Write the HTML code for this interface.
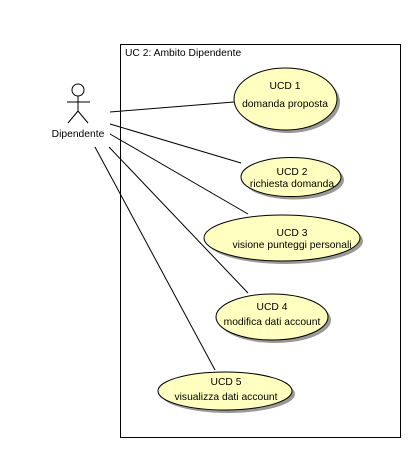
<!DOCTYPE html>
<html><head><style>body{margin:0;background:#fff}svg{display:block}text{font-family:"Liberation Sans",sans-serif;font-size:10.3px;fill:#000}</style></head><body>
<svg width="412" height="449" viewBox="0 0 412 449">
<rect x="120.5" y="44.5" width="280" height="393" fill="#fff" stroke="#000"/>
<text x="125" y="56">UC 2: Ambito Dipendente</text>
<g fill="#999">
<ellipse cx="288.5" cy="102" rx="51.5" ry="31"/>
<ellipse cx="294" cy="180" rx="50" ry="19.5"/>
<ellipse cx="285" cy="241" rx="78" ry="23"/>
<ellipse cx="275" cy="320" rx="56" ry="23"/>
<ellipse cx="228" cy="394" rx="67" ry="19"/>
</g>
<g fill="#ffffc0" stroke="#000">
<ellipse cx="285.5" cy="99" rx="51.5" ry="31"/>
<ellipse cx="291" cy="177" rx="50" ry="19.5"/>
<ellipse cx="282" cy="238" rx="78" ry="23"/>
<ellipse cx="272" cy="317" rx="56" ry="23"/>
<ellipse cx="225" cy="391" rx="67" ry="19"/>
</g>
<g stroke="#000" fill="none">
<line x1="110" y1="112" x2="234" y2="102"/>
<line x1="110" y1="124" x2="241" y2="163"/>
<line x1="110" y1="134" x2="248" y2="214"/>
<line x1="109" y1="147" x2="248" y2="293"/>
<line x1="95" y1="147" x2="215" y2="370"/>
<circle cx="78" cy="90" r="6"/>
<line x1="78" y1="96" x2="78" y2="111"/>
<line x1="67" y1="102" x2="90" y2="102"/>
<line x1="78" y1="111" x2="68" y2="123"/>
<line x1="78" y1="111" x2="88" y2="123"/>
</g>
<g text-anchor="middle">
<text x="78" y="137">Dipendente</text>
<text x="285" y="89">UCD 1</text>
<text x="285" y="107">domanda proposta</text>
<text x="292" y="175">UCD 2</text>
<text x="292" y="187">richiesta domanda</text>
<text x="292" y="236">UCD 3</text>
<text x="292" y="248">visione punteggi personali</text>
<text x="272" y="310">UCD 4</text>
<text x="272" y="325">modifica dati account</text>
<text x="226" y="385">UCD 5</text>
<text x="226" y="400">visualizza dati account</text>
</g>
</svg>
</body></html>
